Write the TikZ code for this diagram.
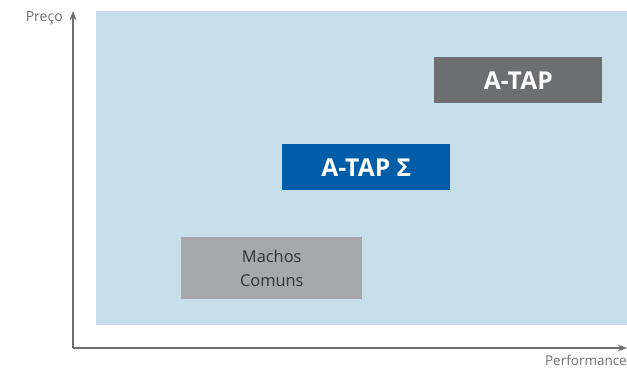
\documentclass[tikz,border=0pt]{standalone}
\usepackage{fontspec}
\setmainfont{Open Sans}
\usetikzlibrary{arrows.meta,positioning}
\definecolor{bgblue}{HTML}{C6DFEB}
\definecolor{axisgray}{HTML}{6D6E71}
\definecolor{boxgray}{HTML}{A7A8AB}
\definecolor{darkgray}{HTML}{6D6E71}
\definecolor{tapblue}{HTML}{005DA8}
\definecolor{txtgray}{HTML}{333333}

\begin{document}
\begin{tikzpicture}[x=0.03cm,y=-0.03cm,
  product/.style={anchor=north west,inner sep=0pt,align=center},
  axis/.style={draw=axisgray,line width=1.1pt,-{Stealth[length=8pt,width=6pt]}}]
  \useasboundingbox (0,0) rectangle (627,368);

  % background area
  \fill[bgblue] (96,11) rectangle (627,325);

  % axes
  \coordinate (origin) at (73,348);
  \coordinate (ytip) at (73,11);
  \coordinate (xtip) at (627,348);
  \draw[axis] (origin) -- (ytip);
  \draw[axis] (origin) -- (xtip);
  \node[axisgray,font=\fontsize{12}{14}\selectfont,anchor=east,inner sep=0pt] (preco) at (63,18) {Preço};
  \node[axisgray,font=\fontsize{11.5}{14}\selectfont,anchor=east,inner sep=0pt] (perf) at (627,360) {Performance};

  % products
  \node[product,fill=boxgray,text=txtgray,minimum width=181*0.03cm,minimum height=62*0.03cm,
    font=\fontsize{14}{20}\selectfont] (machos) at (181,237) {Machos\\Comuns};
  \node[product,fill=tapblue,text=white,minimum width=168*0.03cm,minimum height=46*0.03cm,
    font=\bfseries\fontsize{21}{24}\selectfont] (tapsigma) at (282,144) {A-TAP Σ};
  \node[product,fill=darkgray,text=white,minimum width=168*0.03cm,minimum height=46*0.03cm,
    font=\bfseries\fontsize{21}{24}\selectfont] (tap) at (434,57) {A-TAP};

\end{tikzpicture}
\end{document}
